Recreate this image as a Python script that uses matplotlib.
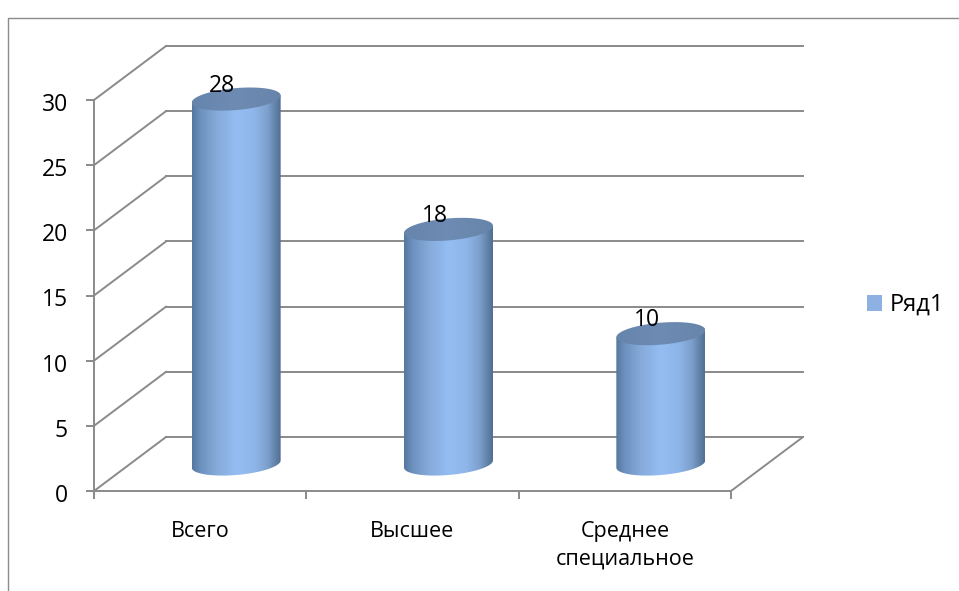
import numpy as np
import matplotlib
matplotlib.use("Agg")
import matplotlib.pyplot as plt
from matplotlib.colors import LinearSegmentedColormap
from matplotlib.lines import Line2D
from matplotlib.patches import Patch, Polygon
from matplotlib.transforms import ScaledTranslation

categories = ["Всего", "Высшее", "Среднее\nспециальное"]
values = [28, 18, 10]
y_ticks = [0, 5, 10, 15, 20, 25, 30]
series_name = "Ряд1"

plt.rcParams["font.family"] = ["Open Sans", "DejaVu Sans"]
W, H = 959, 591
FS = 15.5
FS_NUM = 16.5
GRID = "#8a8a8a"
LW = 1.4
fig = plt.figure(figsize=(W / 100, H / 100), dpi=100, facecolor="white")

# Front plane and depth of the pseudo-3D box, in pixels
L, R, B, T = 94, 731, 491, 100
DX, DY = 72, 54
ux = (R - L) / len(categories)
uy = (B - T) / y_ticks[-1]
ax = fig.add_axes([L / W, 1 - B / H, (R + DX - L) / W, (B - T + DY) / H])
depth_x, depth_y = DX / ux, DY / uy
ax.set_xlim(0, len(categories) + depth_x)
ax.set_ylim(0, y_ticks[-1] + depth_y)
ax.patch.set_alpha(0)
for s in ("top", "right"):
    ax.spines[s].set_visible(False)
for s in ("left", "bottom"):
    ax.spines[s].set_color(GRID)
    ax.spines[s].set_linewidth(LW)
ax.spines["left"].set_bounds(0, y_ticks[-1])
ax.spines["bottom"].set_bounds(0, len(categories))

ax.set_yticks(y_ticks)
ax.tick_params(axis="y", length=5.8, width=LW, color=GRID, pad=13, labelsize=FS_NUM, labelcolor="black")
shift = ScaledTranslation(0, -2 / 100, fig.dpi_scale_trans)
for lab in ax.get_yticklabels():
    lab.set_transform(lab.get_transform() + shift)
ax.set_xticks(range(len(categories) + 1))
ax.set_xticklabels([])
ax.tick_params(axis="x", which="major", length=5.8, width=LW, color=GRID)
ax.set_xticks(np.arange(len(categories)) + 0.5, minor=True)
ax.set_xticklabels(categories, minor=True, linespacing=1.43)
ax.tick_params(axis="x", which="minor", length=0, pad=21.5, labelsize=FS)

# Walls and floor
for v in y_ticks:
    ax.plot([0, depth_x], [v, v + depth_y], color=GRID, lw=LW, zorder=1, clip_on=False)
    ax.plot([depth_x, len(categories) + depth_x], [v + depth_y] * 2, color=GRID, lw=LW, zorder=1, clip_on=False)
ax.plot([len(categories), len(categories) + depth_x], [0, depth_y], color=GRID, lw=LW, zorder=1)

# Cylinders
side_cmap = LinearSegmentedColormap.from_list(
    "side",
    [(0, "#55779f"), (0.1, "#6e92bf"), (0.28, "#86abdb"), (0.5, "#94bdf2"),
     (0.7, "#8fb6ea"), (0.85, "#7da0cd"), (0.95, "#5f7fa6"), (1, "#526f92")],
)
top_cmap = LinearSegmentedColormap.from_list("top", ["#6685ac", "#6e8cb3", "#6784aa"])
A, Bb, SHEAR = 44.5 / ux, 11 / uy, 3.6 / uy
t_top = np.linspace(0, 2 * np.pi, 160)
t_low = np.linspace(np.pi, 2 * np.pi, 80)
for i, v in enumerate(values):
    cx = i + 0.5 + depth_x / 2
    y0 = depth_y / 2
    yt = v + y0
    top_xy = np.c_[cx + A * np.cos(t_top), yt + Bb * np.sin(t_top) + SHEAR * np.cos(t_top)]
    low = np.c_[cx + A * np.cos(t_low), y0 + Bb * np.sin(t_low) + SHEAR * np.cos(t_low)]
    side_xy = np.vstack([low, [[cx + A, yt + SHEAR]], [[cx - A, yt - SHEAR]]])
    extent = (cx - A, cx + A, y0 - Bb - 1, yt + 1)
    grad = np.linspace(0, 1, 256)[None, :]
    side = Polygon(side_xy, closed=True, transform=ax.transData, fc="none", ec="none")
    ax.add_patch(side)
    im = ax.imshow(grad, cmap=side_cmap, extent=extent, aspect="auto", zorder=3, interpolation="bilinear")
    im.set_clip_path(side)
    top = Polygon(top_xy, closed=True, transform=ax.transData, fc="none", ec="none")
    ax.add_patch(top)
    im2 = ax.imshow(grad, cmap=top_cmap, extent=(cx - A, cx + A, yt - Bb - 1, yt + Bb + 1),
                    aspect="auto", zorder=4, interpolation="bilinear")
    im2.set_clip_path(top)
    ax.annotate(str(v), (cx, yt), xytext=(-10, 9.5), textcoords="offset points",
                ha="center", va="center", fontsize=FS_NUM, color="black", zorder=5)
ax.set_xlim(0, len(categories) + depth_x)
ax.set_ylim(0, y_ticks[-1] + depth_y)

# Chart area frame
fig.add_artist(Line2D([8 / W, 8 / W, 1], [0, 1 - 18 / H, 1 - 18 / H], color="#8c8c8c", lw=1.0))

# Legend
fig.legend(handles=[Patch(facecolor="#8cb1e2", edgecolor="none", label=series_name)],
           loc="center left", bbox_to_anchor=(846 / W, 1 - 305 / H), frameon=False,
           fontsize=17, handlelength=0.64, handleheight=0.64, handletextpad=0.3)

fig.savefig("out.png", dpi=100, facecolor="white")
